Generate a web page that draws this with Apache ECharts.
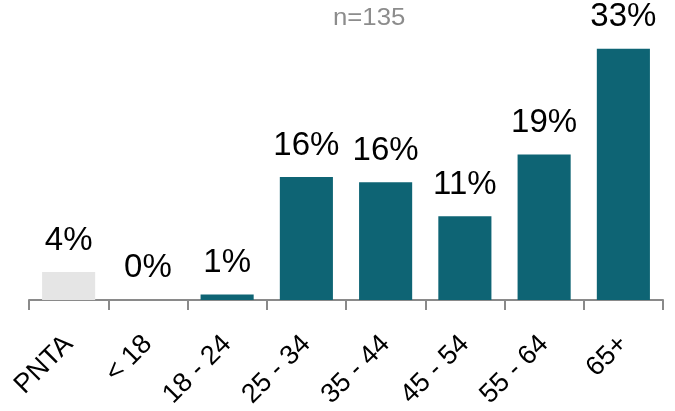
<!DOCTYPE html>
<html>
<head>
<meta charset="utf-8">
<script src="https://cdn.jsdelivr.net/npm/echarts@6/dist/echarts.min.js"></script>
<style>
  html, body { margin: 0; padding: 0; background: #fff; }
  #chart { width: 675px; height: 411px; }
</style>
</head>
<body>
<div id="chart"></div>
<script>
// Age groups of respondents (n = 135), share in percent
const categories = ['PNTA', '< 18', '18 - 24', '25 - 34', '35 - 44', '45 - 54', '55 - 64', '65+'];
const shares = [3.7, 0, 0.7, 16.3, 15.6, 11.1, 19.3, 33.3];
const sampleNote = 'n=135';

const TEAL = '#0e6474';
const GREY_BAR = '#e5e5e5';
const FONT = 'Liberation Sans, Arial, sans-serif';

const chart = echarts.init(document.getElementById('chart'));
chart.setOption({
  animation: false,
  graphic: [{
    type: 'text',
    left: 333,
    top: 7,
    scaleX: 1.12,
    style: { text: sampleNote, fill: '#8c8c8c', font: '23px ' + FONT }
  }],
  grid: { left: 29, right: 12, top: 36, bottom: 109, containLabel: false },
  xAxis: {
    type: 'category',
    data: categories,
    axisLine: { lineStyle: { color: '#8a8a8a', width: 2 } },
    axisTick: { show: true, length: 10, lineStyle: { color: '#8a8a8a', width: 2 } },
    axisLabel: {
      rotate: 45,
      margin: 40,
      color: '#000',
      fontSize: 27,
      fontFamily: FONT,
      interval: 0
    }
  },
  yAxis: {
    type: 'value',
    min: 0,
    max: 35,
    show: false,
    splitLine: { show: false }
  },
  series: [{
    type: 'bar',
    data: shares.map((v, i) => ({
      value: v,
      itemStyle: { color: i === 0 ? GREY_BAR : TEAL }
    })),
    barWidth: '67%',
    label: {
      show: true,
      position: 'top',
      distance: 15,
      color: '#000',
      fontSize: 33,
      fontFamily: FONT,
      formatter: p => Math.round(p.value) + '%'
    }
  }]
});
</script>
</body>
</html>
